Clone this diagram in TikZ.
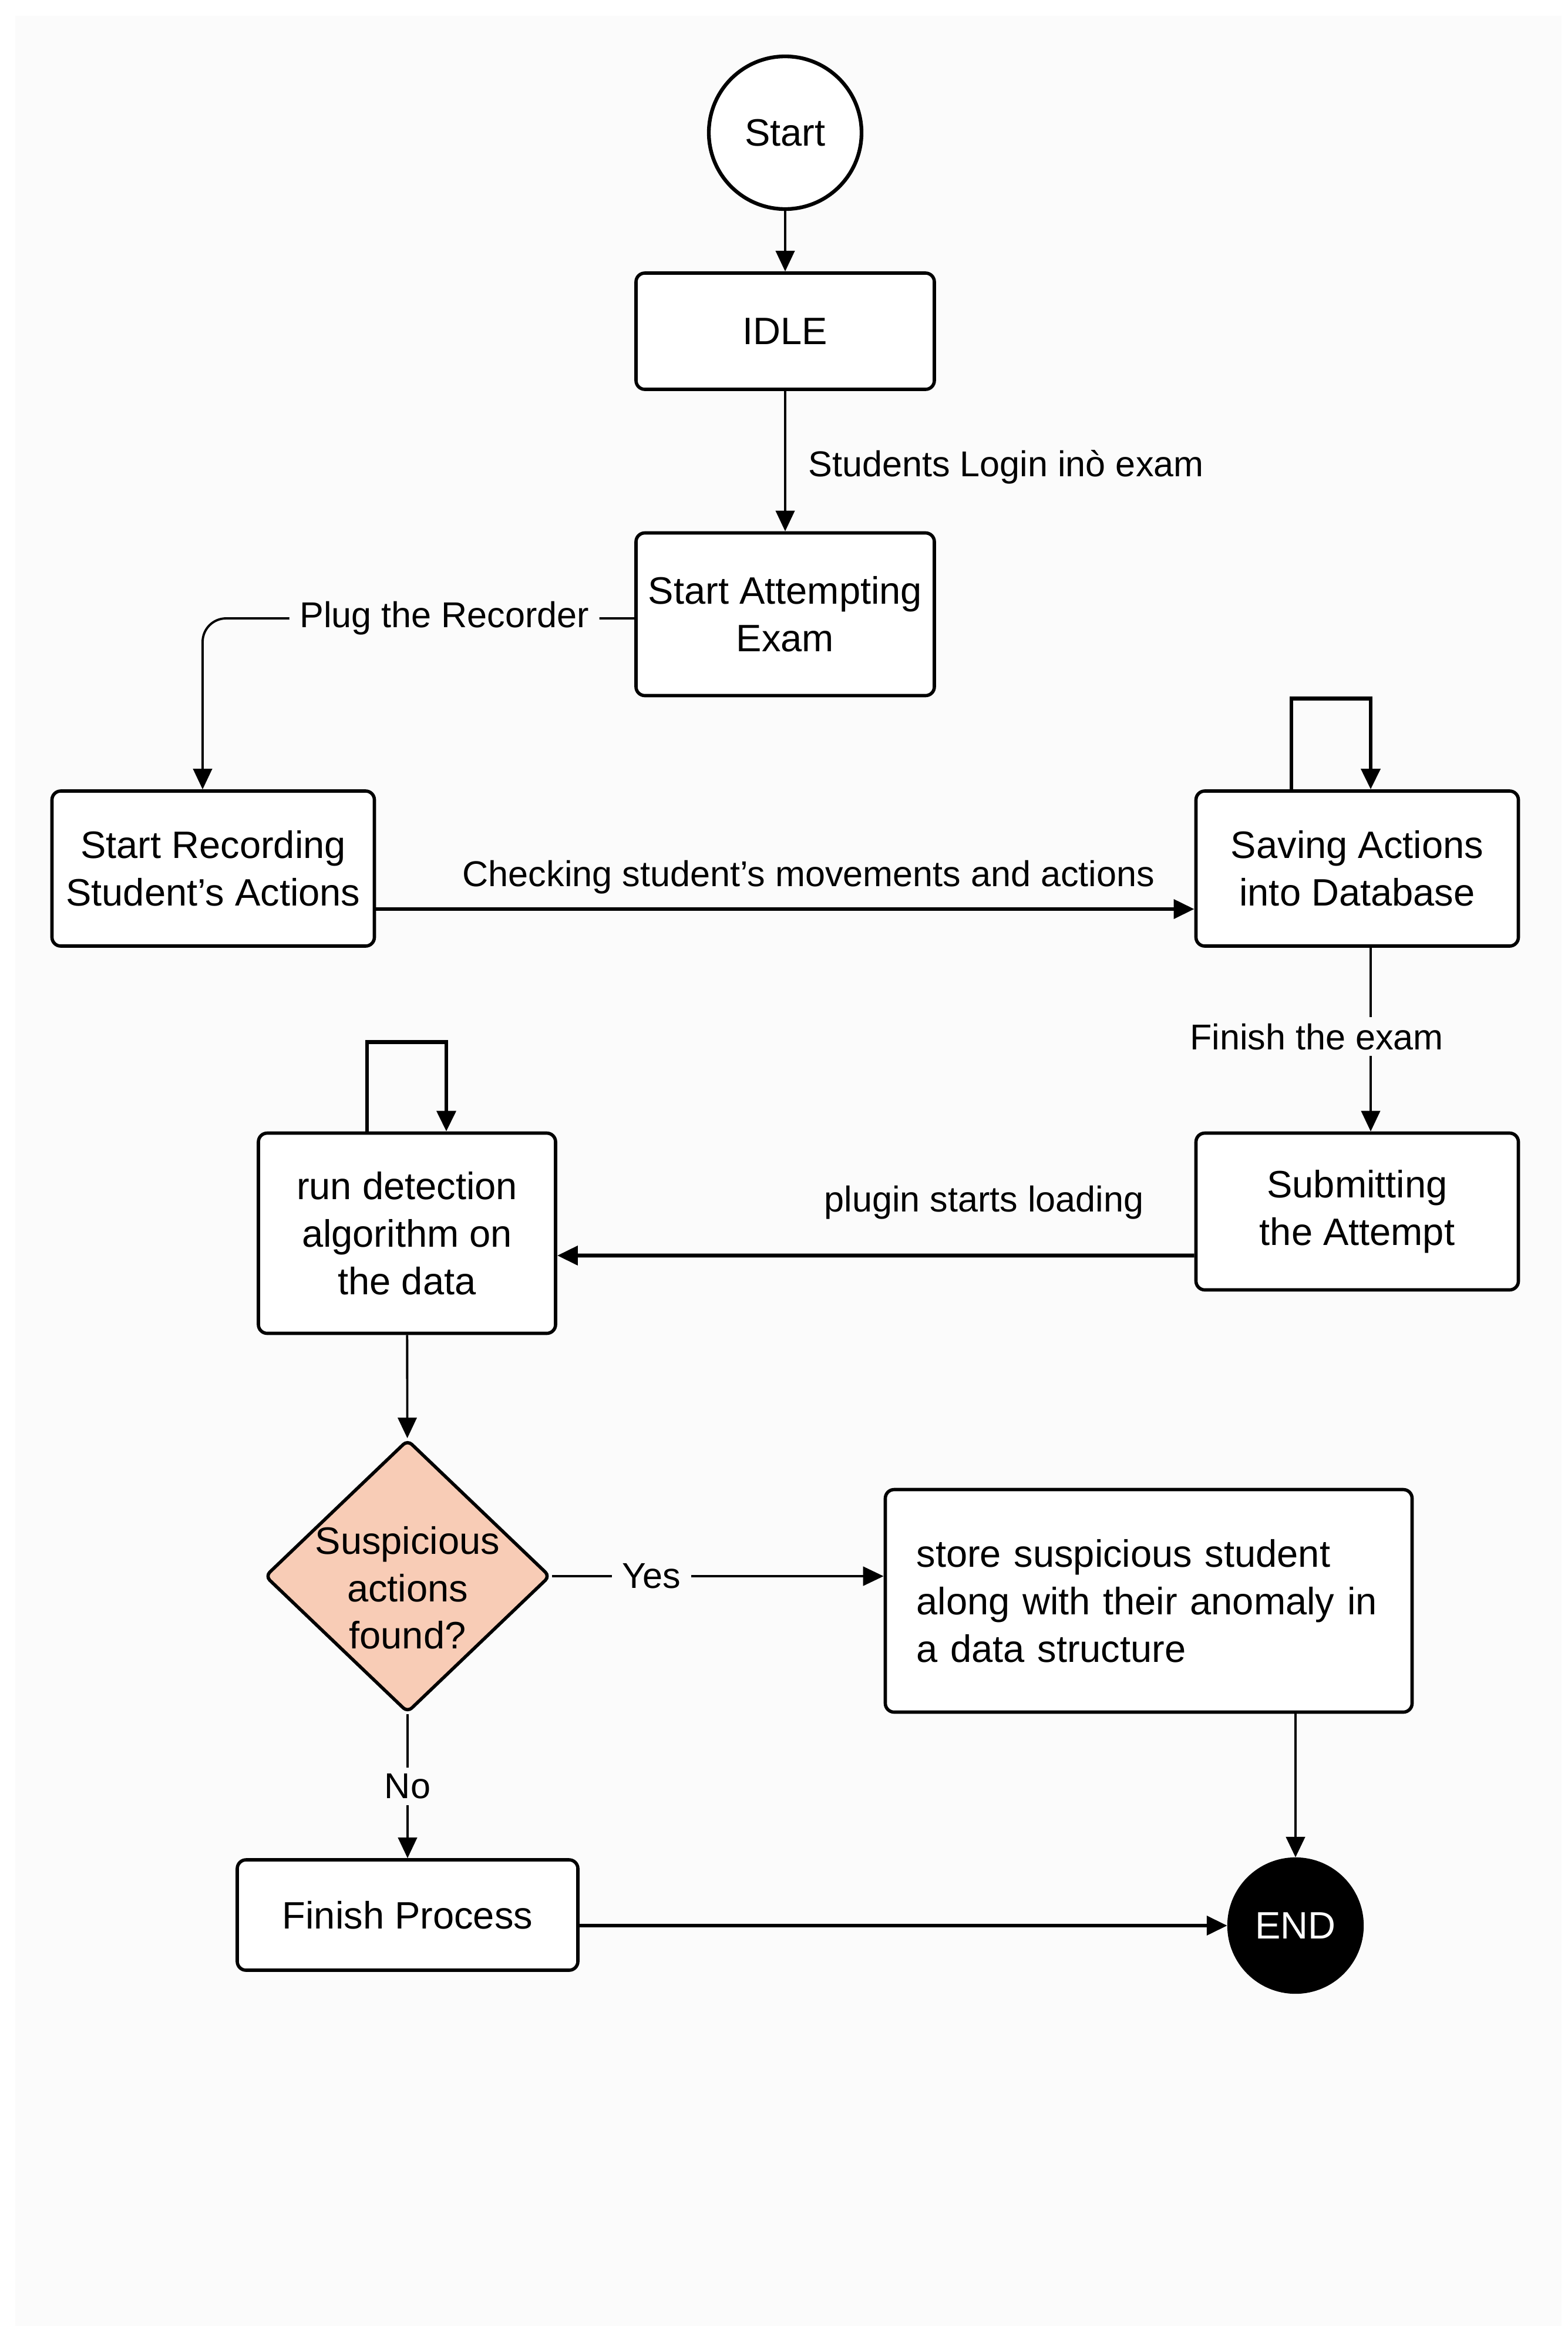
\documentclass[tikz,border=0pt]{standalone}
\usepackage{fontspec}
\setmainfont{Liberation Sans}
\usetikzlibrary{shapes.geometric,arrows.meta}
\definecolor{bg}{HTML}{FBFBFB}
\definecolor{peach}{HTML}{F8CCB6}
\newcommand{\boxfont}{\fontsize{18.5}{23}\selectfont}
\newcommand{\tagfont}{\fontsize{17.4}{21}\selectfont}
\tikzset{
  stage/.style={draw, fill=white, line width=1.6pt, rounded corners=1.5mm, align=center, inner sep=0pt, font=\boxfont},
  terminal/.style={circle, draw, line width=1.8pt, inner sep=0pt, font=\boxfont},
  decision/.style={diamond, draw, fill=peach, line width=1.6pt, rounded corners=1mm, inner sep=0pt, minimum width=4.86cm, minimum height=4.65cm, font=\boxfont},
  arr/.style={-{Triangle[length=3.5mm,width=3.2mm]}, line width=1.1pt},
  heavy/.style={arr, line width=1.9pt},
  tag/.style={fill=bg, inner xsep=5pt, inner ysep=3pt, font=\tagfont}
}

\begin{document}
\begin{tikzpicture}
\fill[white] (0,0) rectangle (26.69,-39.83);
\fill[bg] (0.26,-0.27) rectangle (26.59,-39.61);

\node[terminal, fill=white, minimum size=2.6cm] (start) at (13.37,-2.26) {Start};
\node[stage, minimum width=5.08cm, minimum height=1.98cm] (idle) at (13.37,-5.64) {IDLE};
\node[stage, minimum width=5.08cm, minimum height=2.77cm] (attempt) at (13.37,-10.46) {Start Attempting\\Exam};
\node[stage, minimum width=5.49cm, minimum height=2.64cm] (record) at (3.63,-14.79) {Start Recording\\Student’s Actions};
\node[stage, minimum width=5.49cm, minimum height=2.64cm] (saving) at (23.11,-14.79) {Saving Actions\\into Database};
\node[stage, minimum width=5.49cm, minimum height=2.67cm] (submit) at (23.11,-20.63) {Submitting\\the Attempt};
\node[stage, minimum width=5.06cm, minimum height=3.41cm] (detect) at (6.93,-21.00) {run detection\\algorithm on\\the data};
\node[decision] (check) at (6.94,-26.84) {\makebox[0pt]{\raisebox{-0.42cm}[0pt][0pt]{\begin{tabular}{@{}c@{}}Suspicious\\actions\\found?\end{tabular}}}};
\node[stage, text width=7.91cm, inner xsep=0.53cm, minimum height=3.79cm, align=left] (store) at (19.56,-27.26) {store suspicious student\\along with their anomaly in\\a data structure};
\node[stage, minimum width=5.80cm, minimum height=1.88cm] (finish) at (6.94,-32.61) {Finish Process};
\node[terminal, fill=black, text=white, minimum size=2.26cm] (end) at (22.06,-32.79) {END};

\draw[arr] (start) -- (idle);
\draw[arr] (idle) -- node[tag, right=2mm, yshift=-1mm, fill=none] {Students Login inò exam} (attempt);
\draw[arr, rounded corners=4mm] ([yshift=-0.7mm]attempt.west) -| node[tag, pos=0.22] {Plug the Recorder} ([xshift=-1.8mm]record.north);
\draw[heavy] ([yshift=-6.9mm]record.east) -- node[tag, above=1.2mm, xshift=4mm, fill=none] {Checking student’s movements and actions} ([yshift=-6.9mm]saving.west);
\draw[heavy] ([xshift=-11.2mm]saving.north) -- ++(0,1.55) -| ([xshift=2.3mm]saving.north);
\draw[arr] ([xshift=2.3mm]saving.south) -- node[tag, xshift=-9.2mm, yshift=0.5mm] {Finish the exam} ([xshift=2.3mm]submit.north);
\draw[heavy] ([yshift=-7.5mm]submit.west) -- node[tag, pos=0.33, above=4.8mm, fill=none] {plugin starts loading} ([yshift=-3.8mm]detect.east);
\draw[heavy] ([xshift=-6.8mm]detect.north) -- ++(0,1.525) -| ([xshift=6.7mm]detect.north);
\draw[arr] (detect) -- (check);
\draw[arr, line width=1.4pt] (check) -- node[tag, pos=0.3] {Yes} (check -| store.west);
\draw[arr] (check) -- node[tag] {No} (finish);
\draw[arr, line width=1.4pt] (store.south -| end) -- (end);
\draw[heavy] (finish.east |- end) -- (end);
\end{tikzpicture}
\end{document}
